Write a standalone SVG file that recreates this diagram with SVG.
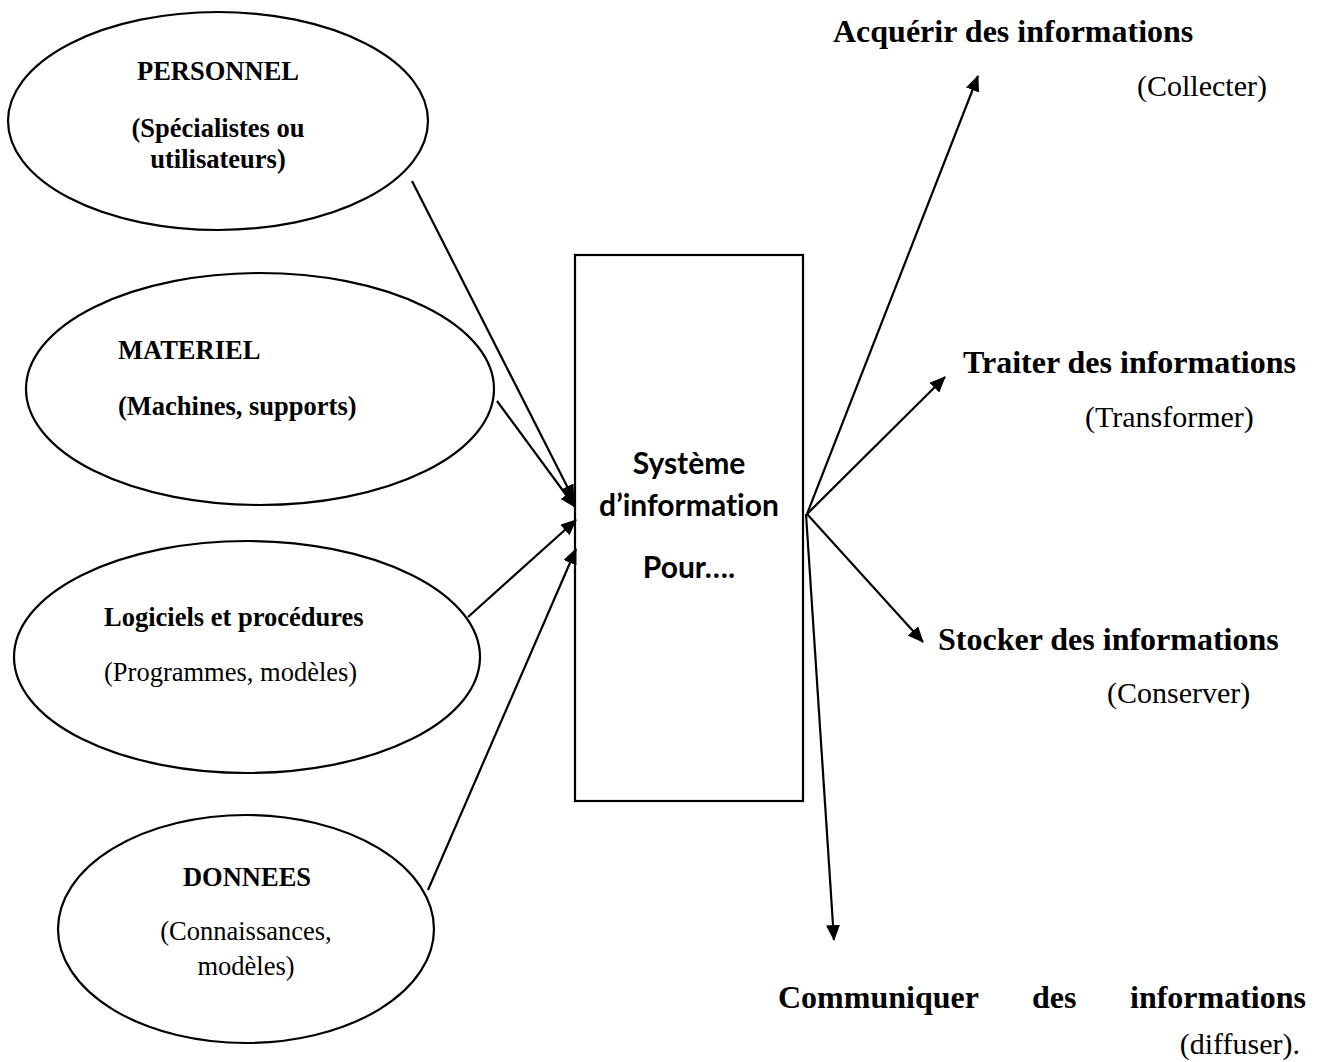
<svg xmlns="http://www.w3.org/2000/svg" width="1327" height="1062" viewBox="0 0 1327 1062">
<style>
.shape{fill:none;stroke:#000;stroke-width:2.2}
.conn{fill:none;stroke:#000;stroke-width:2.2;marker-end:url(#ah)}
.eb{font-family:"Liberation Serif","Times New Roman",serif;font-weight:bold;font-size:26.5px;fill:#000}
.er{font-family:"Liberation Serif","Times New Roman",serif;font-size:26.5px;fill:#000}
.hb{font-family:"Liberation Serif","Times New Roman",serif;font-weight:bold;font-size:32px;fill:#000}
.hr{font-family:"Liberation Serif","Times New Roman",serif;font-size:30px;fill:#000}
.box{font-family:Lato,"Open Sans",sans-serif;font-weight:bold;font-size:30px;fill:#000;text-anchor:middle;font-variant-ligatures:none}
.c{text-anchor:middle}
</style>
<defs>
<marker id="ah" markerUnits="userSpaceOnUse" markerWidth="16" markerHeight="14" refX="15" refY="7" orient="auto">
<path d="M0,0 L16,7 L0,14 z" fill="#000"/>
</marker>
</defs>
<rect width="1327" height="1062" fill="#fff"/>

<g id="personnel">
<ellipse class="shape" cx="218" cy="121" rx="210" ry="109"/>
<text class="eb c" x="218" y="80">PERSONNEL</text>
<text class="eb c" x="218" y="137">(Spécialistes ou</text>
<text class="eb c" x="218" y="168">utilisateurs)</text>
</g>

<g id="materiel">
<ellipse class="shape" cx="260" cy="389" rx="234" ry="116"/>
<text class="eb" x="118" y="359">MATERIEL</text>
<text class="eb" x="118" y="415">(Machines, supports)</text>
</g>

<g id="logiciels">
<ellipse class="shape" cx="247" cy="657" rx="233" ry="116"/>
<text class="eb" x="104" y="626">Logiciels et procédures</text>
<text class="er" x="104" y="681">(Programmes, modèles)</text>
</g>

<g id="donnees">
<ellipse class="shape" cx="246" cy="929" rx="188" ry="114"/>
<text class="eb c" x="247" y="886">DONNEES</text>
<text class="er c" x="246" y="940">(Connaissances,</text>
<text class="er c" x="246" y="975">modèles)</text>
</g>

<g id="systeme">
<rect class="shape" x="575" y="255" width="228" height="546"/>
<text class="box" x="689" y="474">Système</text>
<text class="box" x="689" y="516">d’information</text>
<text class="box" x="689" y="578">Pour….</text>
</g>

<g id="acquerir">
<text class="hb" x="833" y="42">Acquérir des informations</text>
<text class="hr" x="1137" y="96">(Collecter)</text>
</g>

<g id="traiter">
<text class="hb" x="963" y="373">Traiter des informations</text>
<text class="hr" x="1085" y="427">(Transformer)</text>
</g>

<g id="stocker">
<text class="hb" x="938" y="650">Stocker des informations</text>
<text class="hr" x="1107" y="703">(Conserver)</text>
</g>

<g id="communiquer">
<text class="hb" x="778" y="1008">Communiquer</text>
<text class="hb" x="1032" y="1008">des</text>
<text class="hb" x="1306" y="1008" text-anchor="end">informations</text>
<text class="hr" x="1300" y="1054" text-anchor="end">(diffuser).</text>
</g>

<g id="connectors">
<line class="conn" x1="412" y1="181" x2="574" y2="500"/>
<line class="conn" x1="497" y1="401" x2="575" y2="507"/>
<line class="conn" x1="468" y1="617" x2="576" y2="520"/>
<line class="conn" x1="428" y1="890" x2="576" y2="549"/>
<line class="conn" x1="807" y1="514" x2="978" y2="76"/>
<line class="conn" x1="807" y1="514" x2="945" y2="377"/>
<line class="conn" x1="807" y1="514" x2="923" y2="642"/>
<line class="conn" x1="806" y1="514" x2="834" y2="940"/>
</g>
</svg>
